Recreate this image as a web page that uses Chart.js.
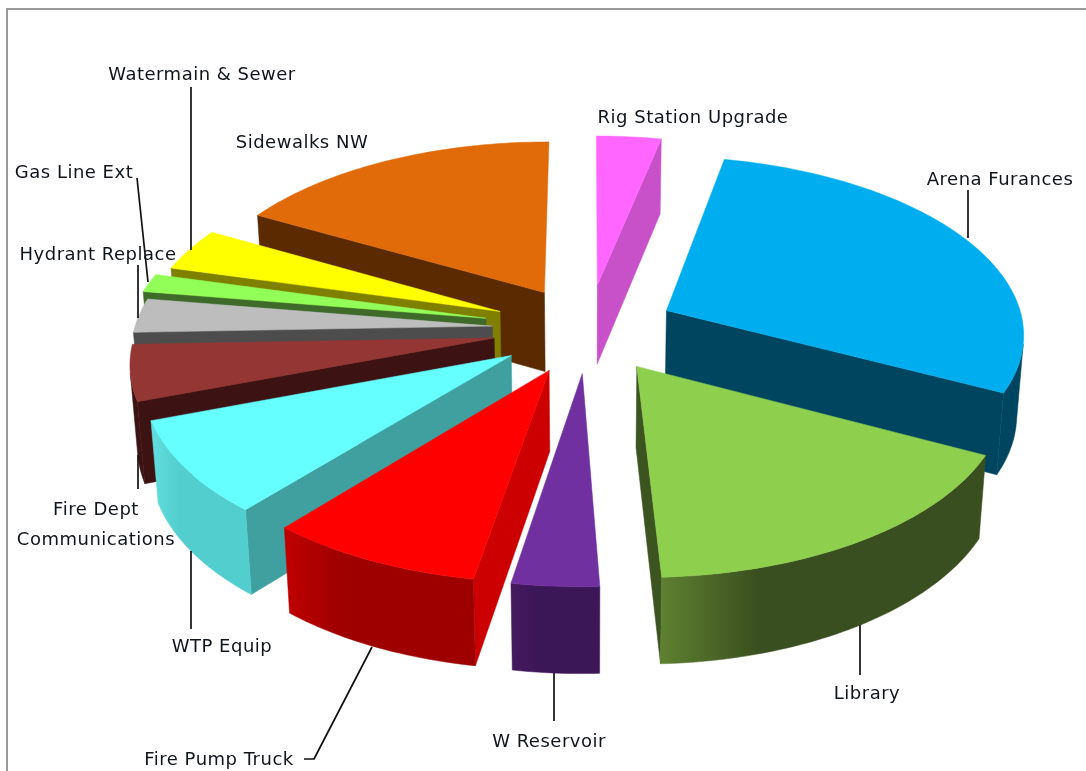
<!DOCTYPE html>
<html>
<head>
<meta charset="utf-8">
<style>
html,body{margin:0;padding:0;background:#fff;overflow:hidden}
#w{position:absolute;left:0;top:0;width:1086px;height:771px}
canvas{filter:blur(0.7px)}
</style>
<script src="https://cdn.jsdelivr.net/npm/chart.js@4"></script>
</head>
<body>
<div id="w"><canvas id="c" width="1086" height="771"></canvas></div>
<script>
// ---- data (share of total, %) ----
const categories = ["Rig Station Upgrade","Arena Furances","Library","W Reservoir","Fire Pump Truck","WTP Equip","Fire Dept Communications","Hydrant Replace","Gas Line Ext","Watermain & Sewer","Sidewalks NW"];
const shares = [3.33,29.17,16.81,3.39,8.42,8.33,5.0,3.06,1.67,3.89,16.94];

// ---- styles ----
const faceColors = ["#FF66FF","#00AEEF","#8FCF4E","#7030A0","#FF0000","#66FFFF","#943634","#BDBDBD","#92FF58","#FFFF00","#E16B08"];
const cutColors  = ["#C850C8","#004560","#3C5520","#45195F","#CC0000","#40A0A0","#3D1212","#4D4D4D","#3E6B2A","#7F7F00","#5B2A00"];
const rimFrom    = ["#C850C8","#004560","#3A4F1F","#3C1758","#9E0000","#52CECE","#3D1212","#4D4D4D","#3E6B2A","#7F7F00","#5B2A00"];
const rimTo      = ["#C850C8","#004560","#5E8030","#45195F","#C00000","#62DEDE","#5A1F1E","#4D4D4D","#3E6B2A","#7F7F00","#5B2A00"];
const explode    = [92,88,88,88,90,92,95,96,105,96,88];
const drawOrder  = [0,10,9,8,7,6,5,1,4,2,3];

const TILT = 0.493, PERSP = 0.00033, DEPTH = 80;

const labelLayout = [
  {lines:["Rig Station Upgrade"],x:693,y:118},
  {lines:["Arena Furances"],x:1000,y:180},
  {lines:["Library"],x:867,y:694},
  {lines:["W Reservoir"],x:549,y:742},
  {lines:["Fire Pump Truck"],x:219,y:760},
  {lines:["WTP Equip"],x:222,y:647},
  {lines:["Fire Dept","Communications"],x:96,y:510,dy:30},
  {lines:["Hydrant Replace"],x:98,y:255},
  {lines:["Gas Line Ext"],x:74,y:173},
  {lines:["Watermain & Sewer"],x:202,y:75},
  {lines:["Sidewalks NW"],x:302,y:143}
];
const leaders = [
  [[968,190],[968,238]],
  [[860,625],[860,675]],
  [[554,673],[554,721]],
  [[304,759],[314,759],[372,647]],
  [[191,551],[191,629]],
  [[138,455],[138,489]],
  [[138,265],[138,318]],
  [[137,178],[148,282]],
  [[191,87],[191,250]]
];

function shoelace(q){let s=0;for(let i=0;i<q.length;i++){const a=q[i],b=q[(i+1)%q.length];s+=a[0]*b[1]-b[0]*a[1];}return s;}
function fillPoly(ctx,pts,col){
  ctx.beginPath();pts.forEach((p,i)=>i?ctx.lineTo(p[0],p[1]):ctx.moveTo(p[0],p[1]));ctx.closePath();
  ctx.fillStyle=col;ctx.strokeStyle=col;ctx.lineWidth=0.5;ctx.lineJoin="round";ctx.fill();ctx.stroke();
}

const pie3d = {
  id:"pie3d",
  beforeDraw(chart){
    const c=chart.ctx;c.save();c.fillStyle="#fff";c.fillRect(0,0,chart.width,chart.height);
    c.strokeStyle="#9a9a9a";c.lineWidth=2;c.strokeRect(7,9,1300,1000);c.restore();
  },
  beforeDatasetDraw(){return false;},
  afterDatasetsDraw(chart){
    const ctx=chart.ctx, arcs=chart.getDatasetMeta(0).data;
    drawOrder.forEach(i=>{
      const el=arcs[i], o=el.options, R=el.outerRadius;
      const a0=el.startAngle,a1=el.endAngle,m=(a0+a1)/2;
      const du=Math.cos(m)*o.offset, dv=Math.sin(m)*o.offset;
      const P=(u,v,z)=>{
        const s=1/(1-PERSP*v), zz=z*(0.5+0.5*s);
        return [el.x+u*s*(1-0.0002*zz), el.y+TILT*v*s+zz];
      };
      const n=Math.max(4,Math.ceil((a1-a0)/0.02));
      const rim=[];
      for(let j=0;j<=n;j++){const a=a0+(a1-a0)*j/n;rim.push([du+R*Math.cos(a),dv+R*Math.sin(a)]);}
      const tip=[du,dv];
      const cut=(p,q)=>{
        const quad=[P(p[0],p[1],0),P(q[0],q[1],0),P(q[0],q[1],DEPTH),P(p[0],p[1],DEPTH)];
        if(shoelace(quad)<-3000) fillPoly(ctx,quad,cutColors[i]);
      };
      cut(tip,rim[0]);
      cut(rim[n],tip);
      // outer wall: only the part of the rim that faces the viewer, as one shaded strip
      const vis=[];
      for(let j=0;j<n;j++){
        const p=rim[j],q=rim[j+1];
        const quad=[P(p[0],p[1],0),P(q[0],q[1],0),P(q[0],q[1],DEPTH),P(p[0],p[1],DEPTH)];
        if(shoelace(quad)<0){ if(!vis.length) vis.push(p); vis.push(q); }
      }
      if(vis.length>1){
        const top=vis.map(p=>P(p[0],p[1],0)), bot=vis.map(p=>P(p[0],p[1],DEPTH)).reverse();
        const g=ctx.createLinearGradient(top[0][0],0,top[top.length-1][0],0);
        g.addColorStop(0,rimFrom[i]);g.addColorStop(0.7,rimFrom[i]);g.addColorStop(1,rimTo[i]);
        fillPoly(ctx,top.concat(bot),g);
      }
      fillPoly(ctx,[P(tip[0],tip[1],0)].concat(rim.map(p=>P(p[0],p[1],0))),o.backgroundColor);
    });
    // leader lines
    ctx.save();ctx.strokeStyle="#111";ctx.lineWidth=1.7;
    leaders.forEach(l=>{ctx.beginPath();l.forEach((p,i)=>i?ctx.lineTo(p[0],p[1]):ctx.moveTo(p[0],p[1]));ctx.stroke();});
    // labels
    ctx.fillStyle="#10151c";ctx.font='18px "DejaVu Sans"';ctx.textAlign="center";ctx.textBaseline="middle";
    if("letterSpacing" in ctx) ctx.letterSpacing="0.5px";
    labelLayout.forEach(L=>{L.lines.forEach((t,k)=>ctx.fillText(t,L.x,L.y+k*(L.dy||0)));});
    ctx.restore();
  }
};

new Chart(document.getElementById("c"),{
  type:"pie",
  data:{labels:categories,datasets:[{data:shares,backgroundColor:faceColors,borderWidth:0,offset:explode}]},
  options:{
    responsive:false,animation:false,radius:358,
    layout:{padding:{left:90,bottom:113}},
    plugins:{legend:{display:false},tooltip:{enabled:false}}
  },
  plugins:[pie3d]
});
</script>
</body>
</html>
